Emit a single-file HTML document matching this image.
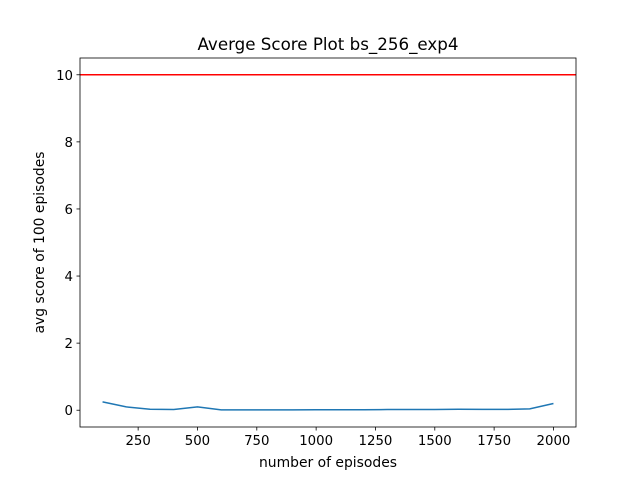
<!DOCTYPE html>
<html><head><meta charset="utf-8"><style>body{margin:0;background:#fff}svg{font-family:"DejaVu Sans","Liberation Sans",sans-serif}</style></head>
<body>
<svg id="c" width="640" height="480"></svg>
<script>
const episodes=[100,200,300,400,500,600,700,800,900,1000,1100,1200,1300,1400,1500,1600,1700,1800,1900,2000];
const scores=[0.25,0.1,0.03,0.02,0.1,0.01,0.01,0.01,0.01,0.015,0.015,0.015,0.02,0.02,0.02,0.03,0.025,0.025,0.04,0.2];
const target=[10];
const xTicks=[250,500,750,1000,1250,1500,1750,2000];
const yTicks=[0,2,4,6,8,10];
const L=80,R=576,T=58,B=427,xmin=5,xmax=2095,ymin=-0.5,ymax=10.5;
const X=v=>L+(v-xmin)/(xmax-xmin)*(R-L);
const Y=v=>B-(v-ymin)/(ymax-ymin)*(B-T);
const s=document.getElementById('c');const NS='http://www.w3.org/2000/svg';
function mk(t,a,txt){const e=document.createElementNS(NS,t);for(const k in a)e.setAttribute(k,a[k]);if(txt!==undefined)e.textContent=txt;s.appendChild(e);return e;}
let e;
e=mk('line',{x1:L,x2:R,y1:Y(target[0]),y2:Y(target[0]),stroke:'#ff0000','stroke-width':1.5});


e=mk('polyline',{points:episodes.map((x,i)=>X(x)+','+Y(scores[i])).join(' '),fill:'none',stroke:'#1f77b4','stroke-width':1.5});


e=mk('rect',{x:L,y:T,width:R-L,height:B-T,fill:'none',stroke:'#000','stroke-width':0.8});


xTicks.forEach(t=>{const x=X(t);
e=mk('line',{x1:x,x2:x,y1:B,y2:B+3.5,stroke:'#000','stroke-width':0.8});


e=mk('text',{x:x,y:B+18,'text-anchor':'middle','font-size':13.3},t);

});
yTicks.forEach(t=>{const y=Y(t);
e=mk('line',{x1:L-3.5,x2:L,y1:y,y2:y,stroke:'#000','stroke-width':0.8});


e=mk('text',{x:L-7,y:y+5,'text-anchor':'end','font-size':13.3},t);

});
e=mk('text',{x:(L+R)/2,y:467,'text-anchor':'middle','font-size':13.9},'number of episodes');


e=mk('text',{x:0,y:0,'text-anchor':'middle','font-size':13.9,transform:`translate(44,${(T+B)/2}) rotate(-90)`},'avg score of 100 episodes');


e=mk('text',{x:(L+R)/2,y:50,'text-anchor':'middle','font-size':16.7},'Averge Score Plot bs_256_exp4');


</script>
</body></html>
